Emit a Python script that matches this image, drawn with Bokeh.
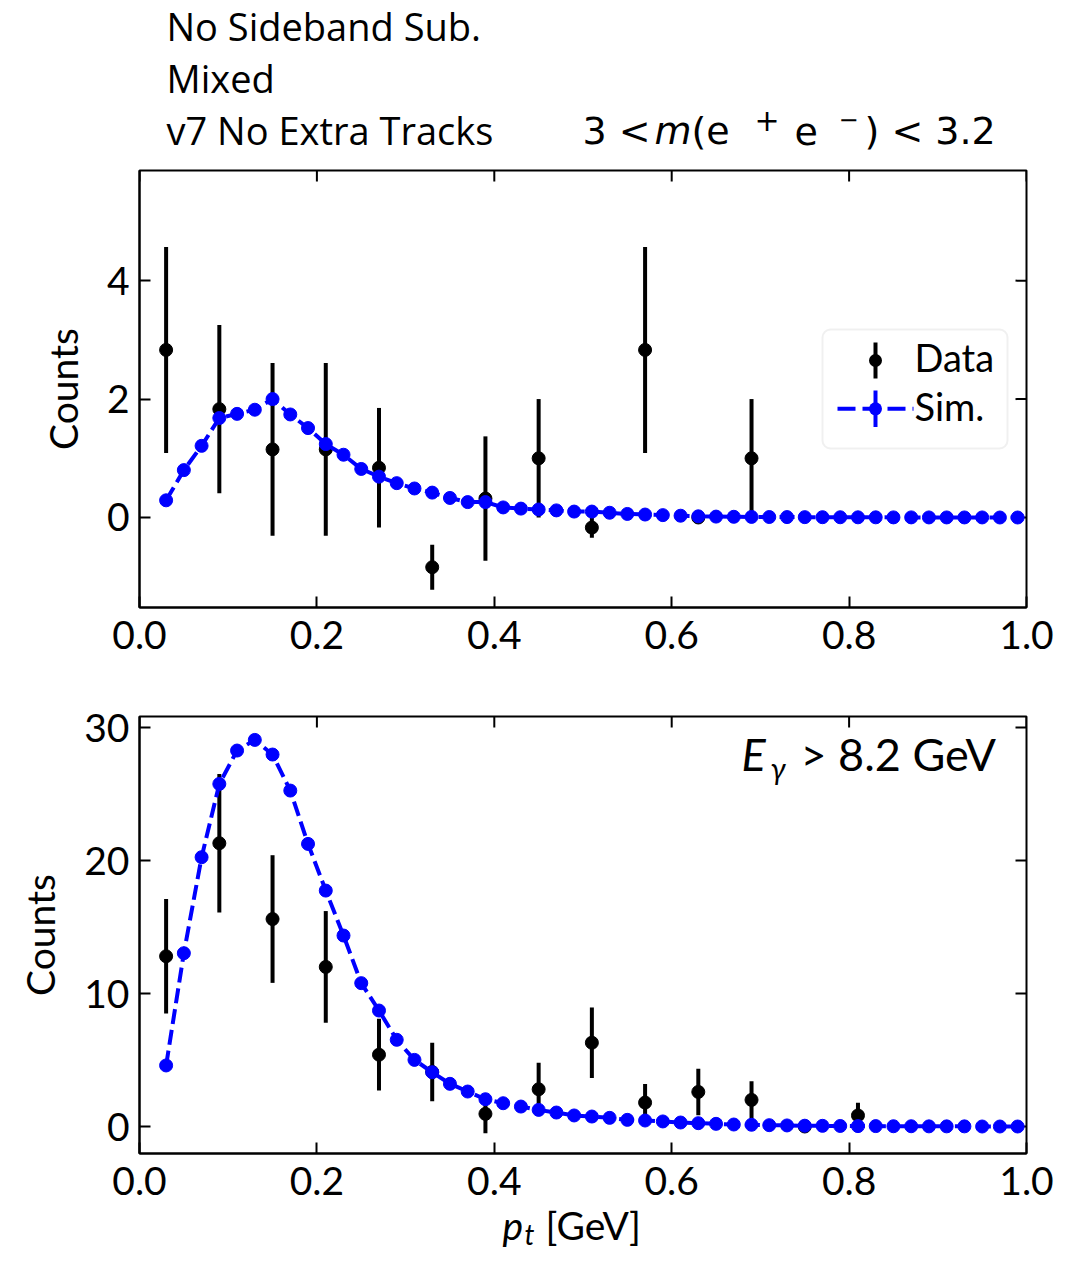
import math
from bokeh.plotting import figure
from bokeh.models import (ColumnDataSource, Range1d, FixedTicker,
                          PrintfTickFormatter, Label, BoxAnnotation, Arrow)
from bokeh.layouts import column
from bokeh.embed import file_html
from bokeh.resources import INLINE

# ---------------- data ----------------
# top panel: 3 < m(e+e-) < 3.2
top_pt = [0.03, 0.09, 0.15, 0.21, 0.27, 0.33, 0.39, 0.45, 0.51, 0.57, 0.63, 0.69]
top_counts = [2.83, 1.83, 1.15, 1.15, 0.84, -0.84, 0.32, 1.00, -0.17, 2.83, 0.00, 1.00]
top_err = [1.74, 1.42, 1.46, 1.46, 1.01, 0.38, 1.05, 1.00, 0.17, 1.74, 0.00, 1.00]

# bottom panel: E_gamma > 8.2 GeV
bot_pt = [0.03, 0.09, 0.15, 0.21, 0.27, 0.33, 0.39, 0.45, 0.51, 0.57, 0.63, 0.69, 0.75, 0.81]
bot_counts = [12.8, 21.3, 15.6, 12.0, 5.4, 4.1, 0.95, 2.8, 6.3, 1.8, 2.6, 2.0, 0.0, 0.83]
bot_err = [4.3, 5.2, 4.8, 4.2, 2.7, 2.2, 1.45, 2.0, 2.65, 1.4, 1.75, 1.4, 0.0, 0.95]

# simulation
sim_pt = [0.03, 0.05, 0.07, 0.09, 0.11, 0.13, 0.15, 0.17, 0.19, 0.21,
          0.23, 0.25, 0.27, 0.29, 0.31, 0.33, 0.35, 0.37, 0.39, 0.41,
          0.43, 0.45, 0.47, 0.49, 0.51, 0.53, 0.55, 0.57, 0.59, 0.61,
          0.63, 0.65, 0.67, 0.69, 0.71, 0.73, 0.75, 0.77, 0.79, 0.81,
          0.83, 0.85, 0.87, 0.89, 0.91, 0.93, 0.95, 0.97, 0.99]
top_sim = [0.29, 0.80, 1.21, 1.68, 1.75, 1.82, 2.00, 1.74, 1.51, 1.24,
           1.06, 0.82, 0.69, 0.58, 0.49, 0.42, 0.33, 0.26, 0.26, 0.17,
           0.15, 0.135, 0.12, 0.10, 0.10, 0.08, 0.06, 0.05, 0.04, 0.03,
           0.02, 0.015, 0.012, 0.010, 0.008, 0.007, 0.006, 0.005, 0.004, 0.003,
           0.003, 0.002, 0.002, 0.001, 0.001, 0.001, 0.001, 0.0, 0.0]
bot_sim = [4.59, 13.03, 20.25, 25.76, 28.27, 29.07, 27.97, 25.26, 21.25, 17.74,
           14.36, 10.78, 8.72, 6.52, 5.01, 4.08, 3.21, 2.63, 2.05, 1.75,
           1.50, 1.25, 1.05, 0.83, 0.75, 0.65, 0.50, 0.45, 0.38, 0.30,
           0.25, 0.20, 0.15, 0.13, 0.10, 0.08, 0.06, 0.05, 0.04, 0.03,
           0.03, 0.02, 0.02, 0.01, 0.01, 0.01, 0.0, 0.0, 0.0]

x_ticks = [0.0, 0.2, 0.4, 0.6, 0.8, 1.0]
top_yticks = [0, 2, 4]
bot_yticks = [0, 10, 20, 30]

header_lines = ["No Sideband Sub.", "Mixed", "v7 No Extra Tracks"]

# ---------------- style ----------------
FONT = "Lato"
HFONT = "Open Sans"
MATHF = "DejaVu Sans"
BLUE = "#0000ff"
FS = 39
FRAME_W = 887
LEFT = 139
RIGHT = 63


def text_panel(height):
    p = figure(frame_width=FRAME_W, frame_height=height,
               min_border_left=LEFT, min_border_right=RIGHT,
               min_border_top=0, min_border_bottom=0,
               x_range=Range1d(0, 1), y_range=Range1d(0, 1),
               x_axis_location=None, y_axis_location=None,
               output_backend="svg", toolbar_location=None)
    p.grid.visible = False
    p.outline_line_color = None
    p.background_fill_color = "white"
    p.border_fill_color = "white"
    return p


def style_axis(ax):
    ax.major_tick_in = 11
    ax.major_tick_out = 0
    ax.minor_tick_in = 0
    ax.minor_tick_out = 0
    ax.axis_line_width = 2
    ax.axis_line_color = "black"
    ax.major_tick_line_width = 2
    ax.major_tick_line_color = "black"
    ax.major_label_text_font = FONT
    ax.major_label_text_font_size = f"{FS}px"
    ax.major_label_text_color = "black"


def make_panel(yr, yticks, border_top, border_bottom):
    p = figure(frame_width=FRAME_W, frame_height=437,
               min_border_left=LEFT, min_border_right=RIGHT,
               min_border_top=border_top, min_border_bottom=border_bottom,
               x_range=Range1d(0, 1), y_range=Range1d(*yr),
               output_backend="svg", toolbar_location=None)
    p.grid.visible = False
    p.outline_line_color = "black"
    p.outline_line_width = 2
    p.outline_line_alpha = 1
    p.background_fill_color = "white"
    p.border_fill_color = "white"

    xax = p.xaxis[0]
    xax.ticker = FixedTicker(ticks=x_ticks)
    xax.formatter = PrintfTickFormatter(format="%.1f")
    xax.major_label_standoff = 13
    style_axis(xax)

    yax = p.yaxis[0]
    yax.ticker = FixedTicker(ticks=yticks)
    yax.formatter = PrintfTickFormatter(format="%d")
    yax.major_label_standoff = 10
    style_axis(yax)
    yax.axis_label = "Counts"
    yax.axis_label_text_font = FONT
    yax.axis_label_text_font_size = f"{FS}px"
    yax.axis_label_text_font_style = "normal"
    yax.axis_label_text_color = "black"
    yax.axis_label_standoff = 18

    # inward ticks on the top and right edges (half of each mark is clipped by the frame)
    p.scatter(x=x_ticks, y=[yr[1]] * len(x_ticks), marker="dash", angle=math.pi / 2,
              size=22, line_width=2, line_color="black")
    p.scatter(x=[1.0] * len(yticks), y=yticks, marker="dash",
              size=22, line_width=2, line_color="black")
    return p


def draw(p, dpt, dcounts, derr, sim):
    src = ColumnDataSource(dict(
        x=dpt, y=dcounts,
        lo=[c - e for c, e in zip(dcounts, derr)],
        hi=[c + e for c, e in zip(dcounts, derr)]))
    p.segment(x0="x", y0="lo", x1="x", y1="hi", source=src,
              line_width=4, line_color="black")
    p.scatter("x", "y", source=src, size=13, color="black")
    ssrc = ColumnDataSource(dict(x=sim_pt, y=sim))
    p.line("x", "y", source=ssrc, line_width=4, line_color=BLUE, line_dash="15 6")
    p.scatter("x", "y", source=ssrc, size=13, color=BLUE)


def lab(p, x, y, text, size=FS, font=FONT, style="normal", align="left"):
    # y is the wanted baseline (screen units from the frame bottom)
    p.add_layout(Label(x=x, y=y + 0.43 * size, x_units="screen", y_units="screen",
                       text=text, text_font=font, text_font_size=f"{size}px",
                       text_font_style=style, text_align=align,
                       text_baseline="alphabetic", text_color="black"))


def sbox(p, l, r, b, t, **kw):
    p.add_layout(BoxAnnotation(left=l, right=r, bottom=b, top=t,
                               left_units="screen", right_units="screen",
                               bottom_units="screen", top_units="screen", **kw))


def sline(p, x0, y0, x1, y1, **kw):
    p.add_layout(Arrow(x_start=x0, y_start=y0, x_end=x1, y_end=y1,
                       start_units="screen", end_units="screen", end=None, **kw))


# ---------------- header ----------------
head = text_panel(166)
for txt, yb in zip(header_lines, [124.5, 72.5, 20.0]):
    lab(head, 27, yb, txt, size=38, font=HFONT)
# 3 < m(e+e-) < 3.2
lab(head, 443, 19, "3 <", size=38, font=MATHF)
lab(head, 515, 19, "m", size=38, font=MATHF, style="italic")
lab(head, 552, 19, "(e", size=38, font=MATHF)
lab(head, 615, 34, "+", size=30, font=MATHF)
lab(head, 655, 19, "e", size=38, font=MATHF)
lab(head, 699, 37, "\u2212", size=24, font=MATHF)
lab(head, 725, 19, ") < 3.2", size=38, font=MATHF)

# ---------------- top panel ----------------
p1 = make_panel((-1.52, 5.86), top_yticks, 4, 85)
draw(p1, top_pt, top_counts, top_err, top_sim)

# legend (screen units of the frame)
sbox(p1, 683, 868, 159, 278, fill_color="white", fill_alpha=0.8,
     line_color="#cccccc", line_width=2, border_radius=8)
sline(p1, 736, 229, 736, 265, line_width=4, line_color="black")
sbox(p1, 729.5, 742.5, 240.5, 253.5, fill_color="black", fill_alpha=1,
     line_color=None, border_radius=7)
lab(p1, 775, 233.7, "Data", size=38)
sline(p1, 698, 198.7, 774, 198.7, line_width=4, line_color=BLUE, line_dash="18 7")
sline(p1, 736, 180.5, 736, 217, line_width=4, line_color=BLUE)
sbox(p1, 729.5, 742.5, 192.2, 205.2, fill_color=BLUE, fill_alpha=1,
     line_color=None, border_radius=7)
lab(p1, 775, 185.3, "Sim.", size=38)

# ---------------- bottom panel ----------------
p2 = make_panel((-2.03, 30.83), bot_yticks, 24, 50)
draw(p2, bot_pt, bot_counts, bot_err, bot_sim)

lab(p2, 602, 379.7, "E", size=45, style="italic")
lab(p2, 631, 373, "\u03b3", size=30, style="italic")
lab(p2, 661, 379.7, "> 8.2 GeV", size=45)

# ---------------- footer: x axis label  p_t [GeV] ----------------
foot = text_panel(60)
lab(foot, 363, 22, "p", style="italic")
lab(foot, 385, 17, "t", size=28, style="italic")
lab(foot, 406, 22, "[GeV]")

layout = column(head, p1, p2, foot)
open("out.html", "w").write(file_html(layout, INLINE))
